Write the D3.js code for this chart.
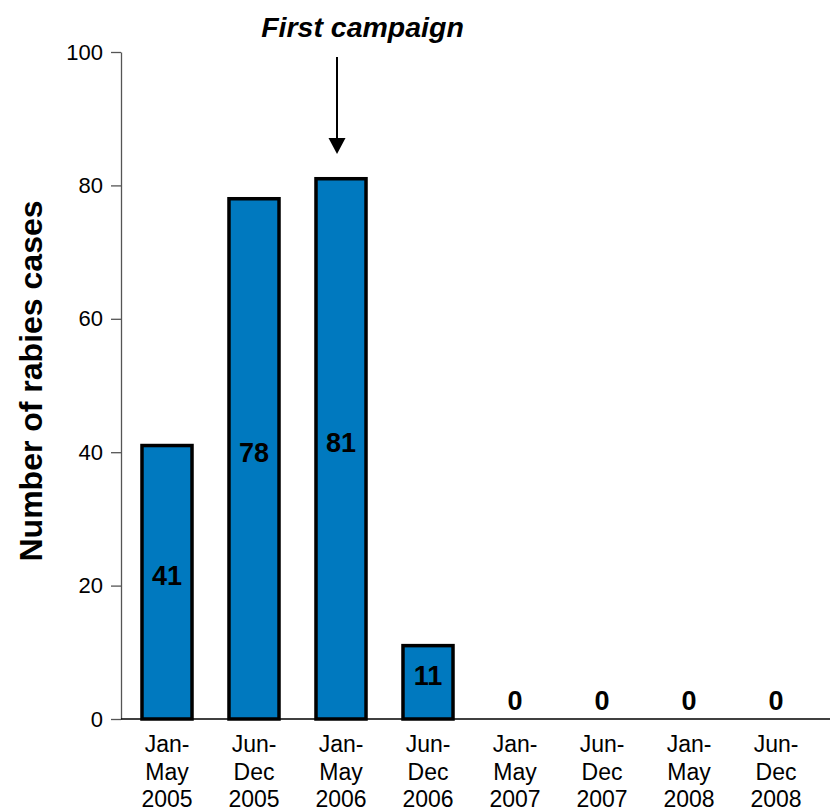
<!DOCTYPE html>
<html>
<head>
<meta charset="utf-8">
<script src="https://cdn.jsdelivr.net/npm/d3@7/dist/d3.min.js"></script>
<style>
  html, body { margin: 0; padding: 0; background: #fff; }
  svg { display: block; font-family: "Liberation Sans", Arial, sans-serif; }
</style>
</head>
<body>
<svg id="chart" width="830" height="812"></svg>
<script>
// Rabies cases per half-year period
const periods = [
  ["Jan-", "May", "2005"], ["Jun-", "Dec", "2005"],
  ["Jan-", "May", "2006"], ["Jun-", "Dec", "2006"],
  ["Jan-", "May", "2007"], ["Jun-", "Dec", "2007"],
  ["Jan-", "May", "2008"], ["Jun-", "Dec", "2008"]
];
const cases = [41, 78, 81, 11, 0, 0, 0, 0];
const yTicks = [0, 20, 40, 60, 80, 100];
const campaignIndex = 2;
const campaignLabel = "First campaign";
const yTitle = "Number of rabies cases";

const svg = d3.select("#chart");
const keys = periods.map((p, i) => i);

const x = d3.scaleBand().domain(keys).range([123.5, 819.5]).paddingInner(0.425).paddingOuter(0.2125);
const y = d3.scaleLinear().domain([0, 100]).range([719, 52]);

// y axis
const yAxis = svg.append("g")
  .attr("transform", `translate(121,0)`)
  .call(d3.axisLeft(y).tickValues(yTicks).tickSize(10).tickPadding(8).tickSizeOuter(0));
yAxis.select(".domain").attr("stroke", "#555").attr("stroke-width", 1.3);
yAxis.selectAll(".tick line").attr("stroke", "#555").attr("stroke-width", 1.3);
yAxis.selectAll(".tick text").attr("font-size", 22).attr("fill", "#000")
  .attr("font-family", "'Liberation Sans', Arial, sans-serif");

// x baseline
svg.append("line")
  .attr("x1", 121).attr("x2", 830)
  .attr("y1", y(0)).attr("y2", y(0))
  .attr("stroke", "#000").attr("stroke-width", 1.3);

// bars
svg.append("g").selectAll("rect")
  .data(cases.map((v, i) => ({ v, i })).filter(d => d.v > 0))
  .join("rect")
  .attr("x", d => x(d.i))
  .attr("y", d => y(d.v))
  .attr("width", x.bandwidth())
  .attr("height", d => y(0) - y(d.v))
  .attr("fill", "#0079BF")
  .attr("stroke", "#000")
  .attr("stroke-width", 3.5);

// value labels
svg.append("g").selectAll("text")
  .data(cases.map((v, i) => ({ v, i })))
  .join("text")
  .attr("x", d => x(d.i) + x.bandwidth() / 2)
  .attr("y", d => y(d.v > 0 ? d.v / 2 + 1 : 2.8))
  .attr("dy", "0.36em")
  .attr("text-anchor", "middle")
  .attr("font-size", 27)
  .attr("font-weight", "bold")
  .attr("fill", "#000")
  .text(d => d.v);

// category labels
const xl = svg.append("g").selectAll("text")
  .data(periods.map((p, i) => ({ p, i })))
  .join("text")
  .attr("x", d => x(d.i) + x.bandwidth() / 2)
  .attr("text-anchor", "middle")
  .attr("font-size", 23)
  .attr("fill", "#000");
xl.selectAll("tspan")
  .data(d => d.p.map(s => ({ s, cx: x(d.i) + x.bandwidth() / 2 })))
  .join("tspan")
  .attr("x", t => t.cx)
  .attr("y", (t, j) => 752 + j * 27.5)
  .text(t => t.s);

// y title
svg.append("text")
  .attr("transform", `translate(42,381) rotate(-90)`)
  .attr("text-anchor", "middle")
  .attr("font-size", 32)
  .attr("font-weight", "bold")
  .attr("fill", "#000")
  .text(yTitle);

// campaign annotation
const cx = x(campaignIndex) + x.bandwidth() / 2 - 4;
svg.append("text")
  .attr("x", cx + 25.5).attr("y", 37)
  .attr("text-anchor", "middle")
  .attr("font-size", 28.5)
  .attr("font-weight", "bold")
  .attr("font-style", "italic")
  .attr("fill", "#000")
  .text(campaignLabel);
svg.append("line")
  .attr("x1", cx).attr("x2", cx)
  .attr("y1", 57).attr("y2", 141)
  .attr("stroke", "#000").attr("stroke-width", 2);
svg.append("path")
  .attr("d", d3.line()([[cx - 8.5, 138], [cx + 8.5, 138], [cx, 154]]) + "Z")
  .attr("fill", "#000");
</script>
</body>
</html>
